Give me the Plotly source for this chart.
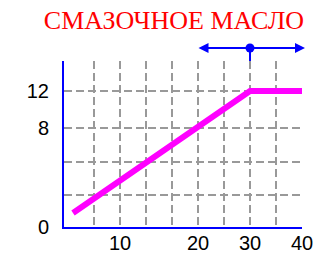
import plotly.graph_objects as go

# Schematic scale positions (the original chart uses an irregular scale)
x_grid = [30, 56, 82, 108, 134, 160, 186, 212, 238]
x_tick_pos = [56, 134, 186, 238]
x_tick_labels = ["10", "20", "30", "40"]

y_grid = [0, 32, 65, 99, 136, 166]
y_tick_pos = [0, 99, 136]
y_tick_labels = ["0", "8", "12"]

# Oil curve
oil_x = [9, 186, 238]
oil_y = [14, 136, 136]

# Blue marker strip above the chart
strip_height = 33
marker_x = [186]
marker_y = [13]
arrow_left = 133
arrow_right = 241
strip_width = 242

title_text = "СМАЗОЧНОЕ МАСЛО"

x_ticktext = [x_tick_labels[x_tick_pos.index(v)] if v in x_tick_pos else "" for v in x_grid]
y_ticktext = [y_tick_labels[y_tick_pos.index(v)] if v in y_tick_pos else "" for v in y_grid]

W, H = 316, 255
ml, mr, mt, mb = 64, 10, 28, 28
plot_w = W - ml - mr
plot_h = H - mt - mb
main_top = y_grid[-1] / plot_h

fig = go.Figure()
fig.add_trace(go.Scatter(x=oil_x, y=oil_y, mode="lines",
                         line=dict(color="#ff00ff", width=6), hoverinfo="skip"))
# stem + dot in the strip
fig.add_trace(go.Scatter(x=[marker_x[0], marker_x[0]], y=[0, marker_y[0]], mode="lines",
                         line=dict(color="#0000ff", width=2), xaxis="x2", yaxis="y2",
                         hoverinfo="skip"))
fig.add_trace(go.Scatter(x=marker_x, y=marker_y, mode="markers", xaxis="x2", yaxis="y2",
                         marker=dict(color="#0000ff", size=9), hoverinfo="skip"))

# double arrow
fig.add_annotation(x=arrow_right, y=marker_y[0], ax=arrow_left, ay=marker_y[0],
                   xref="x2", yref="y2", axref="x2", ayref="y2", text="",
                   showarrow=True, arrowside="end+start", arrowhead=2, startarrowhead=2,
                   arrowsize=1, startarrowsize=1, arrowwidth=2, arrowcolor="#0000ff",
                   standoff=0, startstandoff=0)

grid_style = dict(showgrid=True, gridcolor="#999999", gridwidth=2, griddash="8px,4px",
                  showline=True, linecolor="#0000ff", linewidth=2, zeroline=False,
                  ticks="", automargin=False,
                  tickfont=dict(family="Liberation Sans", size=20, color="black"))

fig.update_layout(
    xaxis=dict(domain=[0, x_grid[-1] / plot_w], range=[0, x_grid[-1]], tickmode="array",
               tickvals=x_grid, ticktext=x_ticktext, ticklabelstandoff=-3, **grid_style),
    yaxis=dict(domain=[0, main_top], range=[0, y_grid[-1]], tickmode="array",
               tickvals=y_grid, ticktext=y_ticktext, ticklabelstandoff=9, **grid_style),
    xaxis2=dict(domain=[0, 1], range=[0, strip_width], visible=False, anchor="y2"),
    yaxis2=dict(domain=[main_top, 1], range=[0, strip_height], visible=False, anchor="x2"),
    width=W, height=H,
    margin=dict(l=ml, r=mr, t=mt, b=mb),
    paper_bgcolor="white", plot_bgcolor="white",
    showlegend=False,
    title=dict(text=title_text, x=174 / W, xanchor="center", y=1 - 20 / H,
               yanchor="middle", xref="container", yref="container",
               font=dict(family="Liberation Serif", size=26, color="red")),
)

fig.write_html("out.html", config={"displayModeBar": False},
               post_script="document.body.style.margin='0px';")
